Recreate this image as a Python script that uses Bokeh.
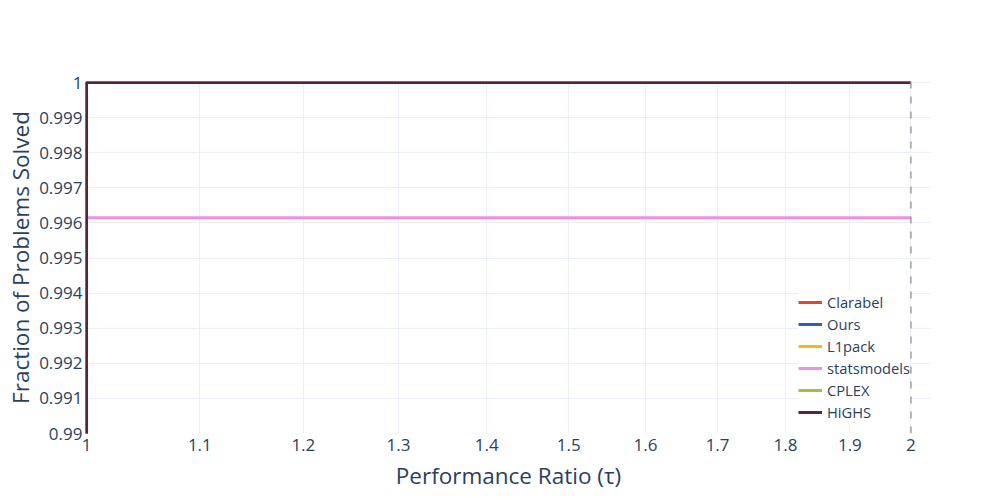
from bokeh.plotting import figure
from bokeh.models import FixedTicker, Span, Legend, LegendItem, Range1d
from bokeh.embed import file_html
from bokeh.resources import INLINE

# ---------------- data ----------------
tau = [1.0, 1.0, 2.0]
clarabel = [0.05, 1.0, 1.0]
ours = [0.62, 1.0, 1.0]
l1pack = [0.10, 1.0, 1.0]
statsmodels = [0.0, 0.99615, 0.99615]
cplex = [0.08, 1.0, 1.0]
highs = [0.15, 1.0, 1.0]

series_names = ["Clarabel", "Ours", "L1pack", "statsmodels", "CPLEX", "HiGHS"]
series_values = [clarabel, ours, l1pack, statsmodels, cplex, highs]
series_colors = ["#DB4A2B", "#2E62A3", "#FDB515", "#EE8FE8", "#9BC53D", "#5B2333"]

x_ticks = [1.0, 1.1, 1.2, 1.3, 1.4, 1.5, 1.6, 1.7, 1.8, 1.9, 2.0]
x_tick_labels = ["1", "1.1", "1.2", "1.3", "1.4", "1.5", "1.6", "1.7", "1.8", "1.9", "2"]
y_ticks = [0.99, 0.991, 0.992, 0.993, 0.994, 0.995, 0.996, 0.997, 0.998, 0.999, 1.0]
y_tick_labels = ["0.99", "0.991", "0.992", "0.993", "0.994", "0.995", "0.996",
                 "0.997", "0.998", "0.999", "1"]

FONT = "Open Sans"
TXT = "#2a3f5f"
GRID = "#EBF0F8"

p = figure(
    width=996, height=498,
    output_backend="svg", toolbar_location=None,
    x_axis_type="log",
    x_range=Range1d(0.99916, 2.035), y_range=Range1d(0.99, 1.0000285),
    min_border_left=85, min_border_right=65, min_border_top=81, min_border_bottom=65,
    background_fill_color="white", border_fill_color="white",
)
p.outline_line_color = None

for ax in (p.xaxis[0], p.yaxis[0]):
    ax.axis_line_color = None
    ax.major_tick_line_color = None
    ax.minor_tick_line_color = None
    ax.major_tick_out = 0
    ax.major_tick_in = 0
    ax.minor_tick_out = 0
    ax.major_label_text_font = FONT
    ax.major_label_text_font_size = "17px"
    ax.major_label_text_color = TXT
    ax.axis_label_text_font = FONT
    ax.axis_label_text_font_size = "22.5px"
    ax.axis_label_text_color = TXT
    ax.axis_label_text_font_style = "normal"

p.xaxis.ticker = FixedTicker(ticks=x_ticks)
p.xaxis.major_label_overrides = dict(zip(x_ticks, x_tick_labels))
p.yaxis.ticker = FixedTicker(ticks=y_ticks)
p.yaxis.major_label_overrides = dict(zip(y_ticks, y_tick_labels))
p.xaxis.axis_label = "Performance Ratio (τ)"
p.yaxis.axis_label = "Fraction of Problems Solved"
p.xaxis.major_label_standoff = 5
p.xaxis.axis_label_standoff = 6
p.yaxis.major_label_standoff = 3
p.yaxis.axis_label_standoff = 0

p.xgrid.grid_line_color = GRID
p.ygrid.grid_line_color = GRID
p.xgrid.grid_line_width = 1
p.ygrid.grid_line_width = 1

items = []
for name, vals, col in zip(series_names, series_values, series_colors):
    r = p.line(tau, vals, line_color=col, line_width=3)
    items.append(LegendItem(label=name, renderers=[r]))

vline = Span(location=max(tau), dimension="height", line_color="#9a9a9a",
             line_alpha=0.75, line_width=2, line_dash="7 8")
p.add_layout(vline)

legend = Legend(items=items, location=(713, 10))
legend.label_text_font = FONT
legend.label_text_font_size = "14.7px"
legend.label_text_color = TXT
legend.glyph_width = 24
legend.glyph_height = 22
legend.label_height = 22
legend.label_standoff = 5
legend.spacing = 0
legend.padding = 4
legend.margin = 0
legend.border_line_color = None
legend.background_fill_color = "white"
legend.background_fill_alpha = 1.0
p.add_layout(legend)

open("out.html", "w").write(file_html(p, INLINE))
